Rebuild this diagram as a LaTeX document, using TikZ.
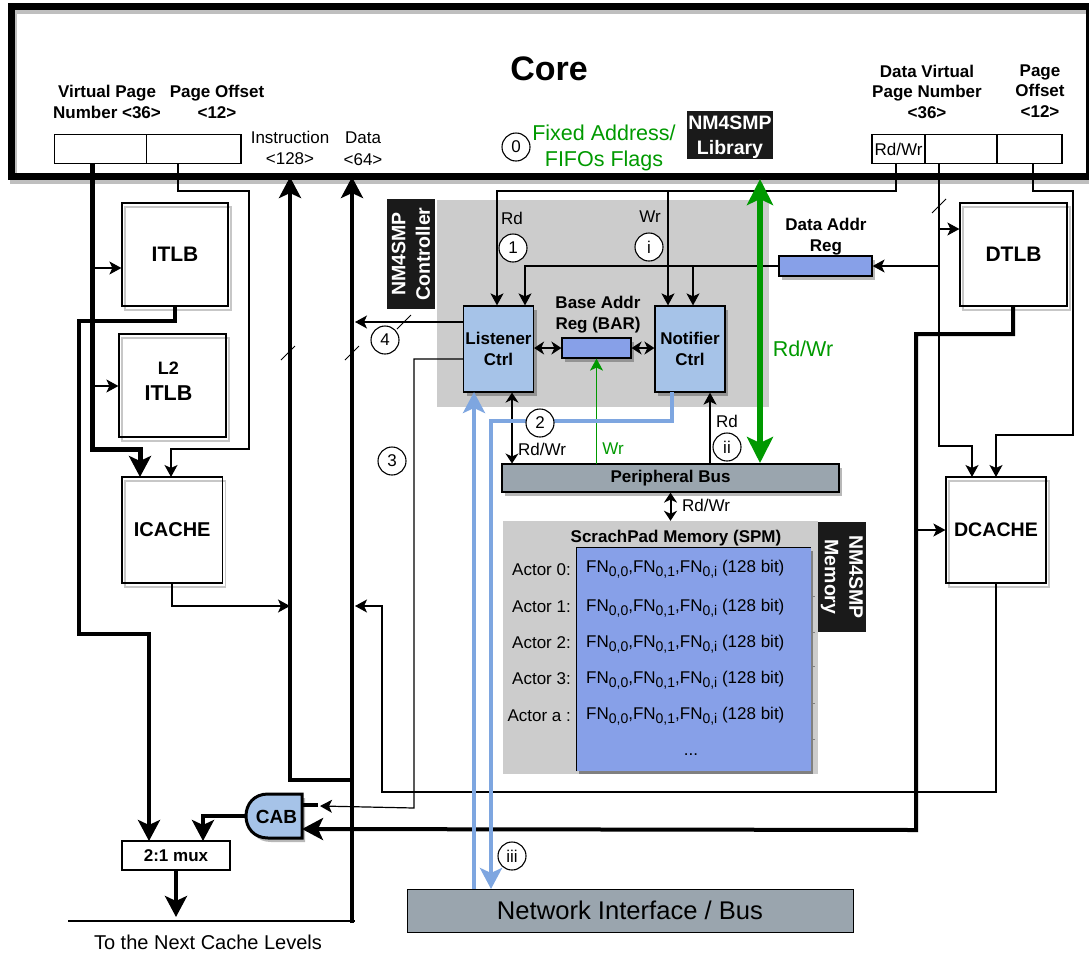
\documentclass[tikz,border=0pt]{standalone}
\usepackage{fontspec}
\setmainfont{Liberation Sans}
\usetikzlibrary{arrows.meta,shadows}
\definecolor{ctrlblue}{HTML}{A6C3E8}
\definecolor{regblue}{HTML}{87A0E8}
\definecolor{wireblue}{HTML}{7EA6E0}
\definecolor{busgray}{HTML}{9AA5AE}
\definecolor{libgreen}{HTML}{009900}
\definecolor{regiongray}{HTML}{CCCCCC}
\definecolor{tagblack}{HTML}{1A1A1A}
\newcommand{\px}[1]{\fontsize{#1}{#1}\selectfont}
\newcommand{\fnsub}[1]{\raisebox{-4pt}{\px{14}#1}}
\tikzset{
  lbl/.style={inner sep=0pt,align=center,font=\px{17}},
  lblb/.style={lbl,font=\px{17}\bfseries},
  field/.style={draw,line width=1.1pt,minimum height=28.5pt,inner sep=0pt,fill=white},
  wbox/.style={draw,line width=1.2pt,inner sep=0pt,font=\px{20}\bfseries,
    general shadow={shadow xshift=3pt,shadow yshift=-4pt,draw=black!22,line width=1.2pt}},
  sbox/.style={draw,line width=1.2pt,inner sep=0pt,align=center,
    general shadow={shadow xshift=3pt,shadow yshift=-4pt,fill=black,fill opacity=.28}},
  tag/.style={fill=tagblack,text=white,inner sep=0pt,align=center,font=\px{19.5}\bfseries},
  circ/.style={circle,draw,fill=white,line width=1.1pt,minimum size=28pt,inner sep=0pt,font=\px{17}},
  wire/.style={line width=1.2pt},
  wtip/.style={wire,-{Stealth[length=12pt,width=13pt,inset=3pt]}},
  wboth/.style={wire,{Stealth[length=10pt,width=13pt,inset=3pt]}-{Stealth[length=10pt,width=13pt,inset=3pt]}},
  bus/.style={line width=4pt},
  btip/.style={bus,-{Stealth[length=21pt,width=22pt,inset=5pt]}},
  blue/.style={draw=wireblue,line width=4pt},
  blip/.style={blue,-{Stealth[length=21pt,width=22pt,inset=5pt]}},
}
\begin{document}
\begin{tikzpicture}[x=1pt,y=-1pt]
\useasboundingbox (0,0) rectangle (1089,956);

\node[draw,line width=7pt,minimum width=1078pt,minimum height=170pt,inner sep=0pt,
  general shadow={shadow xshift=2pt,shadow yshift=-4pt,draw=black!25,line width=7pt}] (core) at (550.5,91) {};
\node[font=\px{34}\bfseries,inner sep=0pt] (coretitle) at (549,69) {Core};

\node[fill=regiongray,minimum width=332pt,minimum height=207pt,inner sep=0pt] (ctrlbg) at (603,303) {};
\node[fill=regiongray,minimum width=315pt,minimum height=253pt,inner sep=0pt] (spmbg) at (660.5,647.5) {};

\node[field,minimum width=92pt] (ivpn) at (100.5,149) {};
\node[field,minimum width=94.5pt] (ioff) at (193.75,149) {};
\node[field,minimum width=53pt,font=\px{17}] (drw) at (898.5,149) {Rd/Wr};
\node[field,minimum width=72pt] (dvpn) at (961,149) {};
\node[field,minimum width=65pt] (doff) at (1029.5,149) {};

\node[lblb] (ivpnlbl) at (107,101.5) {Virtual Page\\[4pt]Number <36>};
\node[lblb] (iofflbl) at (217,101.5) {Page Offset\\[4pt]<12>};
\node[lbl] (instrlbl) at (290,147.5) {Instruction\\[4pt]<128>};
\node[lbl] (datalbl) at (363,149) {Data\\[5pt]<64>};
\node[lblb] (dvpnlbl) at (927,91.5) {Data Virtual\\[3pt]Page Number\\[4pt]<36>};
\node[lblb] (dofflbl) at (1040,91.5) {Page\\[3pt]Offset\\[4pt]<12>};
\node[lbl,font=\px{21.5},text=libgreen] (fixedlbl) at (604,148) {Fixed Address/\\[4.5pt]FIFOs Flags};
\node[tag,minimum width=86pt,minimum height=48pt] (libtag) at (730,135) {};
\node[tag] (libtxt) at (730,137) {NM4SMP\\[5pt]Library};
\node[tag,minimum width=110pt,minimum height=48pt,rotate=90] (ctrltag) at (411,254) {NM4SMP\\[5pt]Controller};
\node[tag,minimum width=110pt,minimum height=48pt,rotate=-90] (memtag) at (842,577) {NM4SMP\\[5pt]Memory};

\node[wbox,minimum width=106pt,minimum height=103pt,font=\px{21}\bfseries] (itlb) at (175,254.5) {ITLB};
\node[wbox,minimum width=107pt,minimum height=103pt] (ltlb) at (172.5,385.5) {};
\node[lblb,font=\px{18}\bfseries] (ltlblbl) at (168.5,381) {L2\\[8pt]\px{21.5}\bfseries ITLB};
\node[wbox,minimum width=100.5pt,minimum height=106pt] (icache) at (172.25,530) {ICACHE};
\node[wbox,minimum width=107pt,minimum height=103pt,font=\px{21}\bfseries] (dtlb) at (1013.5,254.5) {DTLB};
\node[wbox,minimum width=100pt,minimum height=106pt,font=\px{19.6}\bfseries] (dcache) at (996,530) {DCACHE};

\node[sbox,fill=ctrlblue,minimum width=70pt,minimum height=86pt,font=\px{17}\bfseries] (listener) at (498.5,349) {Listener\\[4pt]Ctrl};
\node[sbox,fill=ctrlblue,minimum width=70pt,minimum height=86pt,font=\px{17}\bfseries] (notifier) at (690,349) {Notifier\\[4pt]Ctrl};
\node[sbox,fill=regblue,minimum width=69pt,minimum height=20pt] (bar) at (596.5,348) {};
\node[sbox,fill=regblue,minimum width=93pt,minimum height=20pt] (addrreg) at (825.5,266) {};
\node[sbox,fill=busgray,minimum width=337pt,minimum height=28pt,font=\px{17}\bfseries] (pbus) at (670.5,478) {Peripheral Bus};
\node[draw,fill=busgray,line width=1pt,minimum width=446pt,minimum height=43pt,inner sep=0pt,font=\px{25.6}] (netbus) at (630,910.5) {Network Interface / Bus};
\node[draw,line width=1.1pt,fill=white,minimum width=108pt,minimum height=29pt,inner sep=0pt,font=\px{17}\bfseries] (mux) at (176,855.5) {2:1 mux};
\node[lblb] (barlbl) at (598,315) {Base Addr\\[4pt]Reg (BAR)};
\node[lblb] (reglbl) at (826,236.5) {Data Addr\\[4pt]Reg};

\node[lblb] (spmlbl) at (676,538) {ScrachPad Memory (SPM)};
\node[fill=regblue,minimum width=234pt,minimum height=223pt,inner sep=0pt,
  general shadow={shadow xshift=2pt,shadow yshift=-3pt,fill=black!50}] (spm) at (694,659.5) {};
\draw[line width=1.2pt] (spm.south west) -- (spm.north west) -- (spm.north east);
\foreach \y in {596,632,666,703,739}{
  \draw[black!50,line width=.8pt] (811,\y) -- (814.5,\y);
}
\foreach \a/\y/\z in {0/570/569,1/607/608,2/643/644,3/679/680,{a\ }/716/716}{
  \node[lbl,anchor=east] (act\y) at (571,\y) {Actor \a:};
  \node[lbl,anchor=west] (fn\y) at (586,\z) {FN\fnsub{0,0},FN\fnsub{0,1},FN\fnsub{0,i} (128 bit)};
}
\node[lbl] (dots) at (691,755) {...};

\coordinate (cabout) at (246,816);
\coordinate (cabtop) at (302,805);
\coordinate (cablow) at (302,829);
\draw[fill=ctrlblue,line width=3pt,general shadow={shadow xshift=3pt,shadow yshift=-4pt,fill=black,fill opacity=.28}]
  (302,794) -- (268,794) .. controls (254,794) and (246,804) .. (cabout) .. controls (246,828) and (254,838) .. (268,838) -- (302,838) -- cycle;
\node[inner sep=0pt,font=\px{19}\bfseries] (cab) at (276.5,817) {CAB};

\coordinate (ivpnout) at (92,164);
\coordinate (ivpnbend) at (92,449);
\coordinate (icachetip) at (140,477);
\coordinate (itlbbr) at (92,268);
\coordinate (ltlbbr) at (92,386);
\coordinate (itlbout) at (175,306);
\coordinate (itlbwa) at (175,321);
\coordinate (itlbwb) at (79,321);
\coordinate (itlbwc) at (79,634);
\coordinate (muxtipa) at (149,841);
\coordinate (muxtipb) at (203,841);
\draw[line width=5pt,-{Stealth[length=21pt,width=22pt,inset=5pt]}] (ivpnout) -- (ivpnbend) -| (icachetip);
\draw[wtip] (itlbbr) -- (itlbbr -| itlb.west);
\draw[wtip] (ltlbbr) -- (ltlbbr -| ltlb.west);
\draw[btip] (itlbout) -- (itlbwa) -- (itlbwb) -- (itlbwc) -| (muxtipa);
\draw[btip] (cabout) -| (muxtipb);

\coordinate (ioffout) at (178,163.5);
\coordinate (ioffwa) at (178,191);
\coordinate (ioffwb) at (249,191);
\coordinate (ioffwc) at (249,449);
\coordinate (icachetipb) at (171,477);
\draw[wtip] (ioffout) -- (ioffwa) -- (ioffwb) -- (ioffwc) -| (icachetipb);

\coordinate (icacheout) at (172,583);
\coordinate (icachewa) at (172,606);
\coordinate (instrbus) at (290,606);
\coordinate (instrtop) at (290,177);
\coordinate (instrlow) at (290,780);
\coordinate (datatop) at (352,177);
\coordinate (datajoin) at (354,780);
\coordinate (instrjoin) at (288,780);
\coordinate (datalow) at (352,923);
\coordinate (cachea) at (68,921);
\coordinate (cacheb) at (355,921);
\coordinate (muxtipc) at (176,917);
\draw[wtip] (icacheout) -- (icachewa) -- (instrbus);
\draw[btip] (instrlow) -- (instrtop);
\draw[btip] (datalow) -- (datatop);
\draw[bus] (instrjoin) -- (datajoin);
\draw[wire] (cachea) -- (cacheb);
\draw[btip] (mux.south) -- (muxtipc);
\node[lbl,font=\px{20}] (nextlbl) at (208,942) {To the Next Cache Levels};

\coordinate (drwout) at (896,163.5);
\coordinate (rdwa) at (896,191);
\coordinate (rdwb) at (497,191);
\coordinate (rdwc) at (668,191);
\draw[wtip] (drwout) -- (rdwa) -- (rdwb) -- (listener.north -| rdwb);
\draw[wtip] (rdwc) -- (notifier.north -| rdwc);

\coordinate (regwa) at (525,266);
\coordinate (regwb) at (693,266);
\draw[wtip] (addrreg.west) -- (regwa) -- (listener.north -| regwa);
\draw[wtip] (regwb) -- (notifier.north -| regwb);
\draw[wboth] (listener.east |- bar.west) -- (bar.west);
\draw[wboth] (bar.east) -- (notifier.west |- bar.east);

\coordinate (dvpnout) at (939,163.5);
\coordinate (dvpnwa) at (939,446);
\coordinate (dcachetipa) at (972,477);
\coordinate (dtlbbr) at (939,229);
\coordinate (regbr) at (939,266);
\draw[wtip] (dvpnout) -- (dvpnwa) -| (dcachetipa);
\draw[wtip] (dtlbbr) -- (dtlbbr -| dtlb.west);
\draw[wtip] (regbr) -- (addrreg.east |- regbr);

\coordinate (doffout) at (1033,163.5);
\coordinate (doffwa) at (1033,191);
\coordinate (doffwb) at (1073,191);
\coordinate (doffwc) at (1073,435);
\coordinate (dcachetipb) at (996,477);
\draw[wtip] (doffout) -- (doffwa) -- (doffwb) -- (doffwc) -| (dcachetipb);

\coordinate (dtlbout) at (1013,306);
\coordinate (dtlbwa) at (1013,334);
\coordinate (dtlbwb) at (916,334);
\coordinate (dtlbwc) at (916,830);
\coordinate (dcachebr) at (916,530);
\draw[btip] (dtlbout) -- (dtlbwa) -- (dtlbwb) -- (dtlbwc) -- (cablow);
\draw[wtip] (dcachebr) -- (dcache.west);

\coordinate (dcachewa) at (996,792);
\coordinate (dcachewb) at (382,792);
\coordinate (dcachewc) at (382,606);
\coordinate (databus) at (355,606);
\draw[wtip] (dcache.south) -- (dcachewa) -- (dcachewb) -- (dcachewc) -- (databus);

\coordinate (listenout) at (463.5,322);
\coordinate (databusb) at (355,322);
\coordinate (listenwa) at (463.5,359);
\coordinate (listenwb) at (414,359);
\coordinate (listenwc) at (414,808);
\coordinate (cabtipa) at (320,806);
\coordinate (cabstub) at (318,805);
\draw[wtip] (listenout) -- (databusb);
\draw[wtip] (listenwa) -- (listenwb) -- (listenwc) -- (cabtipa);
\draw[bus] (cabtop) -- (cabstub);

\foreach \t/\x/\y in {ta/288/353,tb/352/353,tc/404/322,td/939/206}{
  \coordinate (\t) at (\x,\y);
  \draw[line width=.9pt] ([shift={(-7,7)}]\t) -- ([shift={(7,-7)}]\t);
}

\coordinate (pbla) at (596.5,463.5);
\coordinate (pblb) at (710,463.5);
\coordinate (pblc) at (512,463.5);
\draw[libgreen,wtip] (pbla) -- (bar.south -| pbla);
\draw[wtip] (pblb) -- (notifier.south -| pblb);
\draw[wboth] (pblc) -- (listener.south -| pblc);
\draw[wboth,line width=2pt] (pbus.south) -- (pbus.south |- spmbg.north);

\coordinate (libtip) at (760,179);
\coordinate (libbus) at (760,463);
\draw[draw=libgreen,fill=libgreen,line width=6pt,{Stealth[length=26pt,width=26pt,inset=6pt]}-{Stealth[length=26pt,width=26pt,inset=6pt]}] (libtip) -- (libbus);

\coordinate (ntfout) at (672,392);
\coordinate (ntfwa) at (672,421);
\coordinate (ntfwb) at (491,421);
\coordinate (ntftip) at (491,889);
\coordinate (lsttip) at (474,392);
\coordinate (lstlow) at (474,889);
\draw[blip] (ntfout) -- (ntfwa) -- (ntfwb) -- (ntftip);
\draw[blip] (lstlow) -- (lsttip);

\node[circ] (c0) at (516,147) {0};
\node[circ] (c1) at (513,248) {1};
\node[circ] (ci) at (649,247) {i};
\node[circ] (c2) at (540,423) {2};
\node[circ] (cii) at (727,447) {ii};
\node[circ] (c3) at (392,461) {3};
\node[circ] (c4) at (385,340) {4};
\node[circ] (ciii) at (512,856) {iii};

\node[lbl] (rdlbl) at (512,218) {Rd};
\node[lbl] (wrlbl) at (650,217) {Wr};
\node[lbl] (rdwrlbl) at (542,449) {Rd/Wr};
\node[lbl,text=libgreen] (wrglbl) at (613,449) {Wr};
\node[lbl] (rdblbl) at (727,421) {Rd};
\node[lbl] (rdwrb) at (706,505) {Rd/Wr};
\node[lbl,font=\px{21.5},text=libgreen] (rdwrg) at (803,349) {Rd/Wr};
\end{tikzpicture}
\end{document}
